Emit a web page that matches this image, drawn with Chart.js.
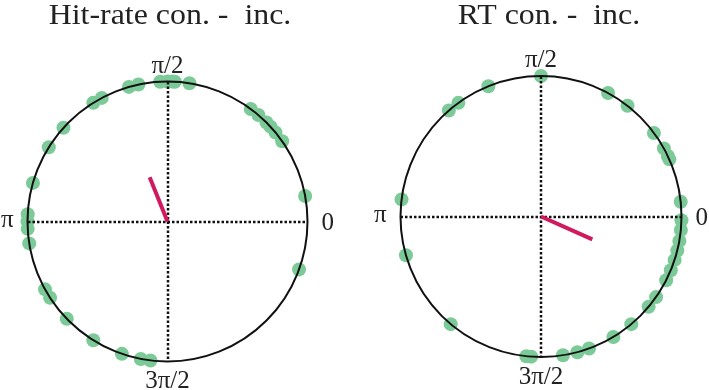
<!DOCTYPE html>
<html>
<head>
<meta charset="utf-8">
<script src="https://cdn.jsdelivr.net/npm/chart.js@4"></script>
<style>
  body { margin: 0; background: #fff; }
  #wrap { position: relative; width: 709px; height: 390px; }
  #wrap canvas { position: absolute; left: 0; top: 0; }
</style>
</head>
<body>
<div id="wrap">
  <canvas id="hit-chart" width="709" height="390"></canvas>
  <canvas id="rt-chart" width="709" height="390"></canvas>
</div>
<script>
// phase angles (degrees) of each participant
const hitRateAngles = [93, 90, 88, 87, 81, 106, 102, 122, 118, 138, 148, 164, 177, 180, 183,
  189, 209, 213, 224, 238, 251, 259, 263, 53.5, 49.5, 45, 42.5, 39.5, 35, 10.5, 340];
const rtAngles = [90, 112, 126, 131, 173, 196, 230, 264, 266, 279, 285, 290, 301, 310, 320,
  325, 333, 337.5, 342, 346, 350, 354.5, 358.5, 6, 24, 25.5, 29, 36.5, 52, 61.5];

// mean resultant vector: [angle in degrees, length]
const hitRateMean = [112, 0.34];
const rtMean = [336, 0.4];

const titles = ["Hit-rate con. -  inc.", "RT con. -  inc."];
const tickLabels = ["0", "\u03c0/2", "\u03c0", "3\u03c0/2"];

const toXY = (deg, r) => {
  const a = (deg * Math.PI) / 180;
  return { x: r * Math.cos(a), y: r * Math.sin(a) };
};

// draws unit circle, dotted axes, angle labels and title
const polarFrame = {
  id: "polarFrame",
  afterDatasetDraw(chart, args, opts) {
    if (args.meta.type !== "scatter" || args.index !== 0) return;
    const ctx = chart.ctx;
    const xs = chart.scales.x, ys = chart.scales.y;
    const cx = xs.getPixelForValue(0), cy = ys.getPixelForValue(0);
    const r = xs.getPixelForValue(1) - cx;
    const lx = Math.round(cx), ly = Math.round(cy);
    ctx.save();
    // dotted cross
    ctx.strokeStyle = "#111";
    ctx.lineWidth = 2.5;
    ctx.setLineDash([2.5, 2]);
    ctx.beginPath();
    ctx.moveTo(lx - r, ly);
    ctx.lineTo(lx + r, ly);
    ctx.moveTo(lx, ly - r);
    ctx.lineTo(lx, ly + r);
    ctx.stroke();
    ctx.setLineDash([]);
    // circle
    ctx.lineWidth = 2;
    ctx.beginPath();
    ctx.arc(cx, cy, r, 0, Math.PI * 2);
    ctx.stroke();
    // labels
    ctx.fillStyle = "#222";
    ctx.font = "25px 'Liberation Serif', serif";
    ctx.textBaseline = "alphabetic";
    ctx.textAlign = "left";
    ctx.fillText(tickLabels[0], cx + r + 14, cy + 8.5);
    ctx.textAlign = "right";
    ctx.fillText(tickLabels[2], cx - r - 14, cy + 5);
    ctx.textAlign = "center";
    ctx.fillText(tickLabels[1], cx, cy - r - 9);
    ctx.fillText(tickLabels[3], cx, cy + r + 26.5);
    // title (the original lettering is a bit wide)
    ctx.font = "29px 'Liberation Serif', serif";
    ctx.translate(opts.x, 24);
    ctx.scale(1.1, 1);
    ctx.fillText(opts.text, 0, 0);
    ctx.restore();
  },
};

function makeChart(id, angles, mean, title, titleX, pad) {
  new Chart(document.getElementById(id), {
    type: "scatter",
    data: {
      datasets: [
        {
          data: angles.map((d) => toXY(d, 1)),
          backgroundColor: "rgb(124,202,152)",
          borderWidth: 0,
          pointRadius: 7,
          clip: false,
          order: 2,
        },
        {
          type: "line",
          data: [{ x: 0, y: 0 }, toXY(mean[0], mean[1])],
          borderColor: "#d1195f",
          borderWidth: 4,
          pointRadius: 0,
          clip: false,
          order: 1,
        },
      ],
    },
    options: {
      responsive: false,
      animation: false,
      layout: { padding: pad },
      scales: {
        x: { type: "linear", min: -1, max: 1, display: false },
        y: { type: "linear", min: -1, max: 1, display: false },
      },
      plugins: {
        legend: { display: false },
        tooltip: { enabled: false },
        polarFrame: { text: title, x: titleX },
      },
    },
    plugins: [polarFrame],
  });
}

makeChart("hit-chart", hitRateAngles, hitRateMean, titles[0], 170,
  { left: 27.5, right: 401.5, top: 81.5, bottom: 28.5 });
makeChart("rt-chart", rtAngles, rtMean, titles[1], 549,
  { left: 400.5, right: 27.5, top: 76, bottom: 33 });
</script>
</body>
</html>
